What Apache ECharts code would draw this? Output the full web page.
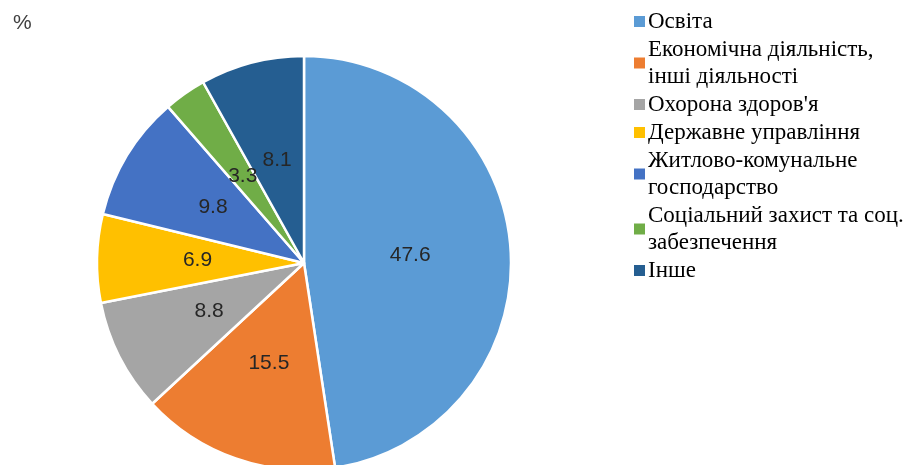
<!DOCTYPE html>
<html><head><meta charset="utf-8">
<script src="https://cdn.jsdelivr.net/npm/echarts@6/dist/echarts.min.js"></script>
<style>html,body{margin:0;padding:0;background:#fff}#c{width:914px;height:465px}</style>
</head><body><div id="c"></div>
<script>
const categories = ["Освіта","Економічна діяльність, інші діяльності","Охорона здоров'я","Державне управління","Житлово-комунальне господарство","Соціальний захист та соц. забезпечення","Інше"];
const legendLabels = ["Освіта","Економічна діяльність,\nінші діяльності","Охорона здоров'я","Державне управління","Житлово-комунальне\nгосподарство","Соціальний захист та соц.\nзабезпечення","Інше"];
const values = [47.6, 15.5, 8.8, 6.9, 9.8, 3.3, 8.1];
const colors = ["#5B9BD5","#ED7D31","#A5A5A5","#FFC000","#4472C4","#70AD47","#255E91"];

const chart = echarts.init(document.getElementById('c'), null, {renderer:'canvas'});
const labelMap = {};
categories.forEach((c,i)=>labelMap[c]=legendLabels[i]);
chart.setOption({
  animation:false,
  color: colors,
  title:{text:'%', left:8, top:8, textStyle:{fontFamily:'Liberation Sans', fontSize:21, fontWeight:'normal', color:'#404040'}},
  legend:{
    orient:'vertical', left:627, top:3, itemWidth:13, itemHeight:13, itemGap:1,
    icon:'rect',
    formatter: n => labelMap[n],
    textStyle:{fontFamily:'Liberation Serif', fontSize:23, color:'#000', lineHeight:27, padding:[0,0,0,-3]},
    data: categories
  },
  series:[{
    type:'pie', center:[304,263], radius:[0,207], startAngle:90, clockwise:true,
    avoidLabelOverlap:false,
    itemStyle:{borderColor:'#fff', borderWidth:2.5},
    label:{show:true, position:'inside', formatter: p => p.value.toFixed(1), fontFamily:'Liberation Sans', fontSize:21, color:'#262626'},
    labelLine:{show:false},
    emphasis:{disabled:true},
    data: categories.map((c,i)=>({name:c, value:values[i]}))
  }]
});
</script></body></html>
